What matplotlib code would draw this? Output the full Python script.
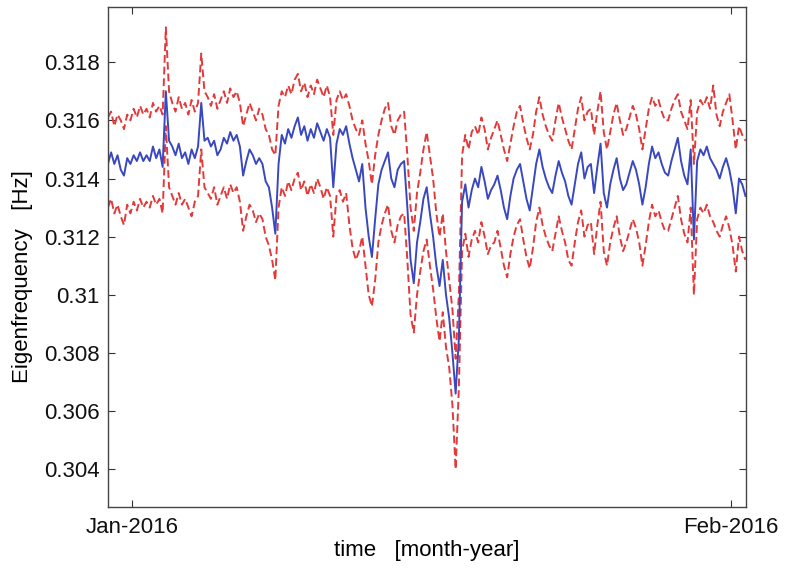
import pandas as pd
import matplotlib
matplotlib.use("Agg")
import matplotlib.pyplot as plt

plt.rcParams['font.family'] = ['Liberation Sans', 'DejaVu Sans']

# samples every 4 hours, starting 30 Dec 2015 18:00 (one row = one day)
start = "2015-12-30 18:00"

mean_freq = [
    0.3145, 0.3149, 0.3145, 0.3148, 0.3143, 0.3141,
    0.3147, 0.3145, 0.3148, 0.3146, 0.3149, 0.3146,
    0.3148, 0.3146, 0.3151, 0.3147, 0.3150, 0.3144,
    0.3170, 0.3153, 0.3151, 0.3148, 0.3152, 0.3147,
    0.3149, 0.3145, 0.3150, 0.3147, 0.3151, 0.3166,
    0.3153, 0.3154, 0.3151, 0.3153, 0.3148, 0.3150,
    0.3154, 0.3152, 0.3156, 0.3153, 0.3155, 0.3151,
    0.3141, 0.3146, 0.3150, 0.3148, 0.3145, 0.3147,
    0.3145, 0.3139, 0.3137, 0.3130, 0.3121, 0.3145,
    0.3155, 0.3152, 0.3157, 0.3154, 0.3158, 0.3161,
    0.3155, 0.3158, 0.3153, 0.3157, 0.3154, 0.3159,
    0.3156, 0.3153, 0.3157, 0.3154, 0.3137, 0.3152,
    0.3157, 0.3155, 0.3158, 0.3152, 0.3147, 0.3143,
    0.3139, 0.3145, 0.3130, 0.3120, 0.3113, 0.3126,
    0.3138, 0.3143, 0.3146, 0.3149, 0.3140, 0.3137,
    0.3143, 0.3145, 0.3146, 0.3130, 0.3112, 0.3104,
    0.3118, 0.3125, 0.3133, 0.3137, 0.3128, 0.3120,
    0.3110, 0.3103, 0.3112, 0.3100, 0.3092, 0.3080,
    0.3066, 0.3085, 0.3132, 0.3138, 0.3130, 0.3136,
    0.3140, 0.3137, 0.3144, 0.3139, 0.3133, 0.3136,
    0.3138, 0.3141, 0.3136, 0.3130, 0.3126, 0.3134,
    0.3140, 0.3143, 0.3145, 0.3139, 0.3133, 0.3129,
    0.3137, 0.3145, 0.3150, 0.3144, 0.3140, 0.3137,
    0.3135, 0.3141, 0.3146, 0.3142, 0.3139, 0.3134,
    0.3131, 0.3138, 0.3145, 0.3149, 0.3140, 0.3144,
    0.3145, 0.3135, 0.3144, 0.3152, 0.3135, 0.3130,
    0.3138, 0.3143, 0.3147, 0.3140, 0.3136, 0.3138,
    0.3142, 0.3146, 0.3143, 0.3138, 0.3131, 0.3137,
    0.3145, 0.3151, 0.3147, 0.3149, 0.3145, 0.3142,
    0.3141, 0.3146, 0.3150, 0.3154, 0.3146, 0.3141,
    0.3138, 0.3150, 0.3119, 0.3146, 0.3150, 0.3148,
    0.3151, 0.3147, 0.3145, 0.3143, 0.3140, 0.3144,
    0.3147, 0.3143, 0.3137, 0.3128, 0.3140, 0.3138,
    0.3134,
]

upper_freq = [
    0.3161, 0.3163, 0.3158, 0.3162, 0.3160, 0.3157,
    0.3162, 0.3160, 0.3164, 0.3161, 0.3165, 0.3162,
    0.3164, 0.3161, 0.3166, 0.3163, 0.3165, 0.3162,
    0.3192, 0.3170, 0.3166, 0.3163, 0.3168, 0.3164,
    0.3166, 0.3162, 0.3167, 0.3163, 0.3166, 0.3183,
    0.3170, 0.3168, 0.3165, 0.3169, 0.3164, 0.3167,
    0.3170, 0.3166, 0.3171, 0.3168, 0.3170, 0.3166,
    0.3158, 0.3162, 0.3166, 0.3163, 0.3160, 0.3164,
    0.3162, 0.3157, 0.3155, 0.3150, 0.3148, 0.3165,
    0.3170, 0.3168, 0.3172, 0.3169, 0.3174, 0.3176,
    0.3170, 0.3173, 0.3168, 0.3172, 0.3169, 0.3174,
    0.3171, 0.3168, 0.3172, 0.3168, 0.3155, 0.3167,
    0.3170, 0.3167, 0.3169, 0.3165, 0.3160, 0.3157,
    0.3155, 0.3160, 0.3152, 0.3146, 0.3138, 0.3148,
    0.3155, 0.3160, 0.3164, 0.3166, 0.3158, 0.3155,
    0.3160, 0.3162, 0.3163, 0.3148, 0.3130, 0.3122,
    0.3135, 0.3142, 0.3150, 0.3156, 0.3148, 0.3140,
    0.3128, 0.3120, 0.3128, 0.3115, 0.3105, 0.3095,
    0.3078, 0.3100, 0.3148, 0.3155, 0.3150, 0.3156,
    0.3158, 0.3155, 0.3161, 0.3157, 0.3150, 0.3154,
    0.3157, 0.3160, 0.3155, 0.3150, 0.3146, 0.3152,
    0.3158, 0.3163, 0.3165, 0.3159, 0.3154, 0.3150,
    0.3155, 0.3163, 0.3168, 0.3162, 0.3158, 0.3155,
    0.3153, 0.3160, 0.3166, 0.3161, 0.3157, 0.3153,
    0.3150, 0.3157, 0.3164, 0.3168, 0.3160, 0.3163,
    0.3164, 0.3155, 0.3163, 0.3170, 0.3156, 0.3150,
    0.3156, 0.3162, 0.3166, 0.3160, 0.3155, 0.3157,
    0.3161, 0.3165, 0.3162, 0.3157, 0.3150, 0.3157,
    0.3164, 0.3168, 0.3165, 0.3167, 0.3163, 0.3160,
    0.3160, 0.3164, 0.3167, 0.3169, 0.3163, 0.3160,
    0.3157, 0.3167, 0.3145, 0.3163, 0.3167, 0.3165,
    0.3168, 0.3164, 0.3172, 0.3162, 0.3158, 0.3163,
    0.3166, 0.3169, 0.3160, 0.3150, 0.3158, 0.3155,
    0.3153,
]

lower_freq = [
    0.3130, 0.3133, 0.3128, 0.3131, 0.3127, 0.3124,
    0.3131, 0.3128, 0.3132, 0.3129, 0.3133, 0.3130,
    0.3132, 0.3130, 0.3134, 0.3131, 0.3133, 0.3128,
    0.3158, 0.3137, 0.3134, 0.3131, 0.3135, 0.3131,
    0.3133, 0.3130, 0.3127, 0.3132, 0.3134, 0.3150,
    0.3137, 0.3135, 0.3133, 0.3137, 0.3131, 0.3134,
    0.3137, 0.3133, 0.3138, 0.3135, 0.3137, 0.3132,
    0.3122, 0.3127, 0.3131, 0.3129, 0.3125, 0.3128,
    0.3126, 0.3120, 0.3117, 0.3112, 0.3105, 0.3130,
    0.3137, 0.3134, 0.3139, 0.3136, 0.3140, 0.3142,
    0.3136, 0.3139, 0.3134, 0.3138, 0.3135, 0.3140,
    0.3137, 0.3133, 0.3137, 0.3134, 0.3120, 0.3134,
    0.3136, 0.3132, 0.3135, 0.3124, 0.3116, 0.3112,
    0.3115, 0.3120, 0.3110, 0.3100, 0.3096, 0.3105,
    0.3118, 0.3124, 0.3128, 0.3131, 0.3122, 0.3118,
    0.3124, 0.3127, 0.3128, 0.3112, 0.3093, 0.3087,
    0.3100, 0.3108, 0.3115, 0.3119, 0.3110, 0.3102,
    0.3092, 0.3084, 0.3094, 0.3082, 0.3075, 0.3062,
    0.3040, 0.3068, 0.3115, 0.3121, 0.3113, 0.3119,
    0.3122, 0.3118, 0.3125, 0.3120, 0.3114, 0.3117,
    0.3118, 0.3122, 0.3116, 0.3110, 0.3106, 0.3114,
    0.3120, 0.3124, 0.3126, 0.3119, 0.3113, 0.3109,
    0.3116, 0.3125, 0.3130, 0.3124, 0.3120, 0.3117,
    0.3115, 0.3121, 0.3127, 0.3122, 0.3118, 0.3112,
    0.3110, 0.3118, 0.3125, 0.3129, 0.3120, 0.3124,
    0.3125, 0.3114, 0.3124, 0.3132, 0.3115, 0.3110,
    0.3118, 0.3123, 0.3127, 0.3120, 0.3115, 0.3118,
    0.3122, 0.3126, 0.3123, 0.3118, 0.3110, 0.3117,
    0.3125, 0.3131, 0.3127, 0.3129, 0.3125, 0.3122,
    0.3122, 0.3126, 0.3130, 0.3134, 0.3126, 0.3121,
    0.3118, 0.3130, 0.3100, 0.3126, 0.3130, 0.3128,
    0.3131, 0.3127, 0.3125, 0.3122, 0.3120, 0.3124,
    0.3127, 0.3123, 0.3117, 0.3108, 0.3120, 0.3115,
    0.3112,
]

y_ticks = [0.304, 0.306, 0.308, 0.31, 0.312, 0.314, 0.316, 0.318]
y_tick_labels = ["0.304", "0.306", "0.308", "0.31", "0.312", "0.314", "0.316", "0.318"]
x_ticks = ["2016-01-01", "2016-02-01"]
x_tick_labels = ["Jan-2016", "Feb-2016"]

times = pd.date_range(start, periods=len(mean_freq), freq="4h")

fig = plt.figure(figsize=(7.85, 5.69), dpi=100)
ax = fig.add_axes([0.1376, 0.109, 0.8127, 0.8787])

red = "#e23a3a"
ax.plot(times, upper_freq, color=red, lw=1.4, ls=(0, (4, 2)))
ax.plot(times, lower_freq, color=red, lw=1.4, ls=(0, (4, 2)))
ax.plot(times, mean_freq, color="#3a48c0", lw=1.4)

ax.set_xlim(pd.Timestamp("2015-12-30 18:10"), pd.Timestamp("2016-02-01 18:40"))
ax.set_ylim(0.3027, 0.3199)

ax.set_yticks(y_ticks)
ax.set_yticklabels(y_tick_labels)
ax.set_xticks(pd.to_datetime(x_ticks))
ax.set_xticklabels(x_tick_labels)

ax.tick_params(direction="in", length=5, width=0.8, labelsize=16,
               top=True, right=True, colors="#333333", labelcolor="#111111")
ax.tick_params(axis="y", pad=6)
ax.tick_params(axis="x", pad=7)
for s in ax.spines.values():
    s.set_color("#444444")
    s.set_linewidth(1.0)

ax.set_xlabel("time   [month-year]", fontsize=16, labelpad=2)
ax.set_ylabel("Eigenfrequency   [Hz]", fontsize=16)
ax.yaxis.set_label_coords(-0.117, 0.46)

fig.savefig("out.png", dpi=100)
